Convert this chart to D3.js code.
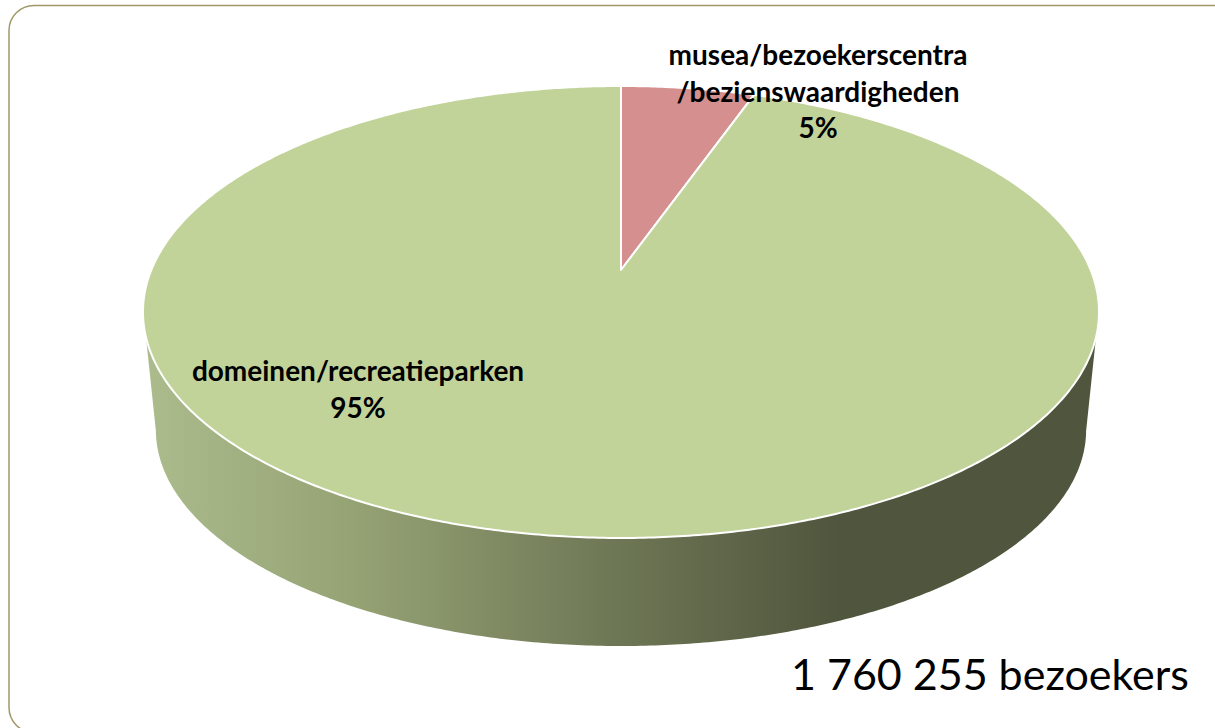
<!DOCTYPE html>
<html lang="nl">
<head>
<meta charset="utf-8">
<script src="https://d3js.org/d3.v7.min.js"></script>
<style>
  html, body { margin: 0; padding: 0; background: #fff; overflow: hidden; }
  text { font-family: Lato, Carlito, sans-serif; fill: #000; }
</style>
</head>
<body>
<svg id="chart" width="1215" height="728"></svg>
<script>
// data
var categories = [["musea/bezoekerscentra", "/bezienswaardigheden"], ["domeinen/recreatieparken"]];
var shares = [5.4, 94.6];
var colors = ["#d58f8e", "#c2d39a"];
var total = "1 760 255 bezoekers";

var w = 1215, h = 728;
var svg = d3.select("#chart");

// pie is seen in perspective: the centre of the circle is not the centre of the ellipse
var cx = 621, apexY = 270, p = 0.1858, A = 469.7, B = 218.2;
var rimY = 336, floorCy = 430;

function project(angle, r) {
  var u = r * Math.sin(angle), v = r * Math.cos(angle);
  return [cx + A * u / (1 + p * v), apexY - B * v / (1 + p * v)];
}
function floor(pt) {
  return [cx + (pt[0] - cx) * 0.973, floorCy + (pt[1] - 312) * 0.956];
}

var angles = d3.range(0, 2 * Math.PI, Math.PI / 360);
var line = d3.line();

// rounded frame, runs off the page on the right and at the bottom
svg.append("rect")
  .attr("x", 9).attr("y", 5.5)
  .attr("width", 1400).attr("height", 727)
  .attr("rx", 25).attr("ry", 25)
  .attr("fill", "none")
  .attr("stroke", "#a09868")
  .attr("stroke-width", 1.5);

var grad = svg.append("defs").append("linearGradient")
  .attr("id", "wall")
  .attr("gradientUnits", "userSpaceOnUse")
  .attr("x1", 150).attr("x2", 840).attr("y1", 0).attr("y2", 0);
grad.append("stop").attr("offset", "0").attr("stop-color", "#abbb8c");
grad.append("stop").attr("offset", "0.3").attr("stop-color", "#95a274");
grad.append("stop").attr("offset", "0.7").attr("stop-color", "#6b7453");
grad.append("stop").attr("offset", "1").attr("stop-color", "#50553d");

// side wall
var rim = angles.map(function(a) { return project(a, 1); });
var topEdge = rim.filter(function(q) { return q[1] >= rimY; });
var lowEdge = rim.map(floor).filter(function(q) { return q[1] >= floorCy; });
svg.append("path")
  .attr("d", line(topEdge.concat(lowEdge.reverse())) + "Z")
  .attr("fill", "url(#wall)");

// top face
var pie = d3.pie().sort(null);
var slices = pie(shares);

function slicePath(d) {
  var pts = [[cx, apexY]];
  var n = Math.ceil((d.endAngle - d.startAngle) / (Math.PI / 360));
  d3.range(n + 1).forEach(function(i) {
    pts.push(project(d.startAngle + (d.endAngle - d.startAngle) * i / n, 1));
  });
  return line(pts) + "Z";
}

svg.selectAll("path.slice")
  .data(slices)
  .enter()
  .append("path")
  .attr("class", "slice")
  .attr("d", slicePath)
  .attr("fill", function(d, i) { return colors[i]; })
  .attr("stroke", "#fff")
  .attr("stroke-width", 2)
  .attr("stroke-linejoin", "round");

// labels
var pct = d3.format(".0%");
var labelPos = [[818, 65], [358, 381]];
var labels = svg.selectAll("text.label")
  .data(slices)
  .enter()
  .append("text")
  .attr("class", "label")
  .attr("text-anchor", "middle")
  .attr("font-size", 28)
  .attr("font-weight", 700);

labels.each(function(d, i) {
  var t = d3.select(this);
  categories[i].concat(pct(d.value / d3.sum(shares))).forEach(function(s, j) {
    t.append("tspan")
      .attr("x", labelPos[i][0])
      .attr("y", labelPos[i][1] + j * 36.5)
      .text(s);
  });
});

svg.append("text")
  .attr("x", 791).attr("y", 690)
  .attr("font-size", 43)
  .text(total);
</script>
</body>
</html>
